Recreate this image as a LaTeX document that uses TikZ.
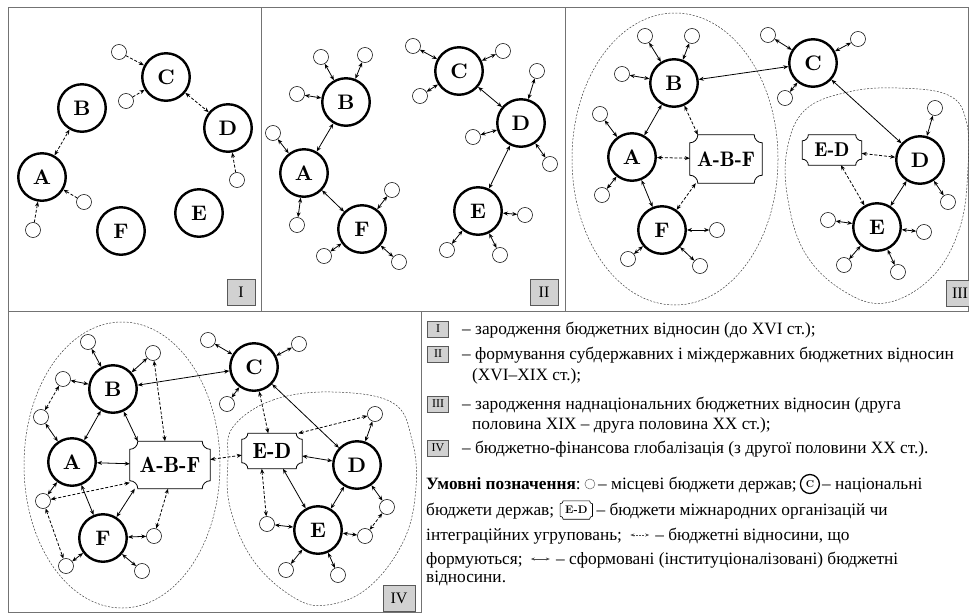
\documentclass[tikz,border=0pt]{standalone}
\usepackage{fontspec}
\setmainfont{Liberation Serif}
\newfontfamily\lmbf{lmroman10-bold.otf}
\newfontfamily\lmdemi{lmromandemi10-regular.otf}
\usetikzlibrary{arrows.meta,calc}
\newcommand\myfs[1]{\fontsize{#1}{#1}\selectfont}
\newcommand\notchit[3][0.8pt]{%
  \draw[line width=#1] ($(#2.north west)+(#3,0)$) -- ($(#2.north east)+(-#3,0)$)
    arc[start angle=180,end angle=90,radius=#3]
    -- ($(#2.south east)+(0,-#3)$)
    arc[start angle=270,end angle=180,radius=#3]
    -- ($(#2.south west)+(#3,0)$)
    arc[start angle=360,end angle=270,radius=#3]
    -- ($(#2.north west)+(0,#3)$)
    arc[start angle=90,end angle=0,radius=#3] -- cycle;}
\tikzset{
 big/.style={circle,draw,line width=2.4pt,minimum size=47.5pt,inner sep=0pt,font=\lmbf\myfs{21}},
 loc/.style={circle,draw,line width=0.55pt,minimum size=15pt,inner sep=0pt},
 rel/.style={<->,line width=0.8pt,>={Stealth[length=5pt,width=4pt]}},
 frel/.style={rel,dash pattern=on 3pt off 1.8pt},
 frelto/.style={->,line width=0.8pt,>={Stealth[length=5pt,width=4pt]},dash pattern=on 3pt off 1.8pt},
 nbox/.style={rectangle,inner sep=0pt,font=\lmdemi\myfs{#1}},
 grp/.style={line width=0.5pt,dash pattern=on 2pt off 1.5pt,black!75},
 frame/.style={line width=0.8pt,black!55},
 pbox/.style={draw=black!65,fill=black!18,line width=0.6pt,minimum width=28pt,minimum height=26pt,inner sep=0pt,font=\myfs{16}},
 lbox/.style={draw=black!65,fill=black!18,line width=0.5pt,minimum width=21pt,minimum height=16pt,inner sep=0pt,font=\myfs{12}},
 lt/.style={anchor=base west,inner sep=0pt,font=\myfs{17.3}},
}
\begin{document}
\begin{tikzpicture}[x=1pt,y=-1pt]
\useasboundingbox (0,0) rectangle (969,614);
\clip (0,0) rectangle (969,614);
% frames
\draw[frame] (8,7) rectangle (968.6,311);
\draw[frame] (261,7) -- (261,311);
\draw[frame] (565,7) -- (565,311);
\draw[frame] (8,311) rectangle (421,612);
\node[pbox] (P1) at (241,292) {I};
\node[pbox] (P2) at (544,292) {II};
\node[pbox] (P3) at (960,293) {III};
\node[pbox,minimum width=32pt] (P4) at (399,598) {IV};

% ---------------- Panel I
\node[big] (A1) at (42,177) {A};
\node[big] (B1) at (82,108) {B};
\node[big] (C1) at (166,77) {C};
\node[big] (D1) at (228,128) {D};
\node[big] (E1) at (199,213) {E};
\node[big] (F1) at (121,231) {F};
\node[loc] (c1a) at (119,52) {};
\node[loc] (c1b) at (126,101) {};
\node[loc] (d1a) at (237,180) {};
\node[loc] (a1a) at (84,202) {};
\node[loc] (a1b) at (33,230) {};
\draw[frel] (A1) -- (B1);
\draw[frel] (C1) -- (D1);
\foreach \s/\t in {c1a/C1,c1b/C1,d1a/D1,a1a/A1,a1b/A1} \draw[frelto] (\s) -- (\t);

% ---------------- Panel II
\node[big] (A2) at (304,173) {A};
\node[big] (B2) at (346,102) {B};
\node[big] (F2) at (362,229) {F};
\node[big] (C2) at (459,71) {C};
\node[big] (D2) at (521,123) {D};
\node[big] (E2) at (478,211) {E};
\node[loc] (b2a) at (321,57) {};
\node[loc] (b2b) at (365,55) {};
\node[loc] (b2c) at (297,94) {};
\node[loc] (a2a) at (273,133) {};
\node[loc] (a2b) at (297,225) {};
\node[loc] (f2a) at (392,190) {};
\node[loc] (f2b) at (324,256) {};
\node[loc] (f2c) at (399,262) {};
\node[loc] (c2a) at (413,46) {};
\node[loc] (c2b) at (503,51) {};
\node[loc] (c2c) at (420,96) {};
\node[loc] (d2a) at (537,71) {};
\node[loc] (d2b) at (473,137) {};
\node[loc] (d2c) at (550,164) {};
\node[loc] (e2a) at (525,215) {};
\node[loc] (e2b) at (447,250) {};
\node[loc] (e2c) at (500,255) {};
\draw[rel] (A2) -- (B2);
\draw[rel] (A2) -- (F2);
\draw[rel] (C2) -- (D2);
\draw[rel] (D2) -- (E2);
\foreach \s/\t in {b2a/B2,b2b/B2,b2c/B2,a2a/A2,a2b/A2,f2a/F2,f2b/F2,f2c/F2,c2a/C2,c2b/C2,c2c/C2,d2a/D2,d2b/D2,d2c/D2,e2a/E2,e2b/E2,e2c/E2} \draw[rel] (\s) -- (\t);

% ---------------- Panel III
\draw[grp] (675,159) ellipse [x radius=103, y radius=146];
\draw[grp] plot[smooth cycle, tension=0.65] coordinates {(787,150) (805,110) (848,92) (898,88) (948,95) (966,120) (968,167) (960,227) (932,277) (885,303) (842,290) (805,253) (788,200)};
\node[big] (A3) at (632,157) {A};
\node[big] (B3) at (674,83) {B};
\node[big] (C3) at (813,63) {C};
\node[big] (F3) at (662,230) {F};
\node[big] (D3) at (920,160) {D};
\node[big] (E3) at (877,227) {E};
\node[nbox=21,minimum width=72pt,minimum height=48pt] (ABF3) at (726,159) {A-B-F};
\notchit{ABF3}{8}
\node[nbox=20,minimum width=59pt,minimum height=30pt] (ED3) at (832,150) {E-D};
\notchit{ED3}{6}
\node[loc] (b3a) at (645,36) {};
\node[loc] (b3b) at (692,36) {};
\node[loc] (b3c) at (622,74) {};
\node[loc] (a3a) at (600,114) {};
\node[loc] (a3b) at (602,195) {};
\node[loc] (f3a) at (717,230) {};
\node[loc] (f3b) at (628,259) {};
\node[loc] (f3c) at (700,266) {};
\node[loc] (c3a) at (768,35) {};
\node[loc] (c3b) at (858,39) {};
\node[loc] (c3c) at (785,98) {};
\node[loc] (d3a) at (935,108) {};
\node[loc] (d3b) at (948,202) {};
\node[loc] (e3a) at (828,220) {};
\node[loc] (e3b) at (924,232) {};
\node[loc] (e3c) at (844,265) {};
\node[loc] (e3d) at (898,272) {};
\draw[rel] (B3) -- (C3);
\draw[rel] (C3) -- (D3);
\draw[rel] (A3) -- (B3);
\draw[rel] (A3) -- (F3);
\draw[rel] (D3) -- (E3);
\draw[frel] (A3) -- (ABF3);
\draw[frel] (B3) -- ($(ABF3.north west)+(8,0)$);
\draw[frel] (F3) -- ($(ABF3.south west)+(6,0)$);
\draw[frel] (ED3) -- (D3);
\draw[frel] (ED3) -- (E3);
\foreach \s/\t in {b3a/B3,b3b/B3,b3c/B3,a3a/A3,a3b/A3,f3a/F3,f3b/F3,f3c/F3,c3a/C3,c3b/C3,c3c/C3,d3a/D3,d3b/D3,e3a/E3,e3b/E3,e3c/E3,e3d/E3} \draw[rel] (\s) -- (\t);

% ---------------- Panel IV
\draw[grp] (122,465) ellipse [x radius=98, y radius=143];
\draw[grp] plot[smooth cycle, tension=0.65] coordinates {(233,427) (273,400) (333,392) (393,403) (412,440) (416,487) (404,540) (369,587) (327,605) (293,597) (253,560) (230,507) (228,460)};
\node[big] (A4) at (72,462) {A};
\node[big] (B4) at (113,389) {B};
\node[big] (C4) at (254,367) {C};
\node[big] (F4) at (103,538) {F};
\node[big] (D4) at (357,465) {D};
\node[big] (E4) at (318,530) {E};
\node[nbox=22,minimum width=80pt,minimum height=47pt] (ABF4) at (170,465) {A-B-F};
\notchit{ABF4}{8}
\node[nbox=22,minimum width=60pt,minimum height=35pt] (ED4) at (272,451) {E-D};
\notchit{ED4}{6}
\node[loc] (sb1) at (88,342) {};
\node[loc] (sb2) at (153,353) {};
\node[loc] (sb3) at (63,379) {};
\node[loc] (sa1) at (41,417) {};
\node[loc] (sc1) at (208,340) {};
\node[loc] (sc2) at (299,344) {};
\node[loc] (sc3) at (227,404) {};
\node[loc] (sf1) at (43,501) {};
\node[loc] (sf2) at (154,536) {};
\node[loc] (sf3) at (66,566) {};
\node[loc] (sf4) at (142,571) {};
\node[loc] (sd1) at (375,414) {};
\node[loc] (sd2) at (387,507) {};
\node[loc] (sd3) at (365,536) {};
\node[loc] (se1) at (267,524) {};
\node[loc] (se2) at (286,570) {};
\node[loc] (se3) at (338,575) {};
\foreach \s/\t in {sb1/B4,sb2/B4,sb3/B4,sa1/A4,A4/B4,A4/ABF4,A4/F4,B4/C4,A4/sf1,F4/sf3,F4/sf2,F4/sf4,C4/sc1,C4/sc2,C4/sc3,C4/D4,ED4/D4,D4/sd1,D4/E4,D4/sd2,E4/sd3,E4/se1,E4/se2,E4/se3} \draw[rel] (\s) -- (\t);
\draw[rel] (B4) -- ($(ABF4.north west)+(8,0)$);
\draw[rel] ($(ABF4.south west)+(5,0)$) -- (F4);
\draw[rel] ($(ED4.south)+(11,0)$) -- (E4);
\draw[frel] (sb2) -- ($(ABF4.north)+(-5,0)$);
\draw[frel] (sb3) -- (sa1);
\draw[frel] (sf1) -- ($(ABF4.south west)+(0,-6)$);
\draw[frel] (sf1) -- (sf3);
\draw[frel] (sf2) -- ($(ABF4.south)+(-2,0)$);
\draw[frel] (ABF4) -- (ED4);
\draw[frel] (C4) -- (ED4);
\draw[frel] ($(ED4.north east)+(-4,0)$) -- (sd1);
\draw[frel] ($(ED4.south west)+(20,0)$) -- (se1);
\draw[frel] (sd2) -- (sd3);

% ---------------- Legend
\node[lbox] (L1) at (438,329) {I};
\node[lt] (T1) at (462,334) {– зародження бюджетних відносин (до XVI ст.);};
\node[lbox] (L2) at (438,354) {II};
\node[lt] (T2) at (462,359) {– формування субдержавних і міждержавних бюджетних відносин};
\node[lt] (T2b) at (472,380) {(XVI–XIX ст.);};
\node[lbox] (L3) at (438,404) {III};
\node[lt] (T3) at (462,409) {– зародження наднаціональних бюджетних відносин (друга};
\node[lt] (T3b) at (472,429) {половина XIX – друга половина XX ст.);};
\node[lbox] (L4) at (438,448) {IV};
\node[lt] (T4) at (462,453) {– бюджетно-фінансова глобалізація (з другої половини XX ст.).};

\node[lt] (U1) at (426,489) {\textbf{Умовні позначення}:};
\node[circle,draw=black!60,line width=0.5pt,minimum size=10pt,inner sep=0pt] (UI1) at ($(U1.base east)+(9,-5)$) {};
\node[lt] (U2) at ($(U1.base east)+(17,0)$) {– місцеві бюджети держав;};
\node[circle,draw,line width=1.3pt,minimum size=19pt,inner sep=0pt,font=\lmbf\myfs{10}] (UI2) at ($(U2.base east)+(13,-5)$) {C};
\node[lt] (U3) at ($(U2.base east)+(25,0)$) {– національні};

\node[lt] (V1) at (426,515) {бюджети держав;};
\node[nbox=11,font=\lmbf\myfs{11},minimum width=32pt,minimum height=18pt] (VI1) at ($(V1.base east)+(22,-5)$) {E-D};
\notchit[0.6pt]{VI1}{3}
\node[lt] (V2) at ($(V1.base east)+(42,0)$) {– бюджети міжнародних організацій чи};

\node[lt] (W1) at (426,540) {інтеграційних угруповань;};
\coordinate (WA) at ($(W1.base east)+(8,-5)$);
\coordinate (WB) at ($(W1.base east)+(27,-5)$);
\draw[<->,line width=0.6pt,>={Stealth[length=4pt,width=3pt]},dash pattern=on 2pt off 1.2pt,black!70] (WA) -- (WB);
\node[lt] (W2) at ($(W1.base east)+(33,0)$) {– бюджетні відносини, що};

\node[lt] (X1) at (426,564) {формуються;};
\coordinate (XA) at ($(X1.base east)+(8,-5)$);
\coordinate (XB) at ($(X1.base east)+(27,-5)$);
\draw[<->,line width=0.6pt,>={Stealth[length=4pt,width=3pt]},black!70] (XA) -- (XB);
\node[lt] (X2) at ($(X1.base east)+(33,0)$) {– сформовані (інституціоналізовані) бюджетні};

\node[lt] (Y1) at (426,582) {відносини.};
\end{tikzpicture}
\end{document}
